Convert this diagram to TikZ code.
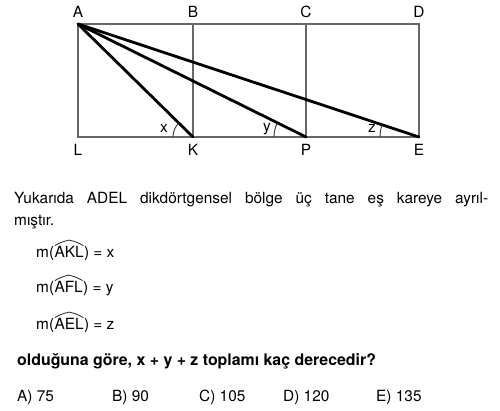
\documentclass[tikz,border=0pt]{standalone}
\usepackage{fontspec}
\setmainfont{TeX Gyre Heros}
\usetikzlibrary{angles}
\newcommand{\fsz}{\fontsize{15.4}{17}\selectfont}
\begin{document}
\begin{tikzpicture}[x=1pt,y=1pt,
  frame/.style={draw=black!60, line width=1.1pt},
  ray/.style={draw=black, line width=2.8pt, line cap=round},
  anglemark/.style={draw=black!80, line width=0.9pt},
  hatarc/.style={draw=black!85, line width=0.8pt},
  ptlabel/.style={anchor=base, inner sep=0pt, font=\fsz},
  txt/.style={anchor=base west, inner sep=0pt, font=\fsz},
  btxt/.style={anchor=base west, inner sep=0pt, font=\fontsize{15.9}{17}\selectfont\bfseries}]
\useasboundingbox (0,0) rectangle (500,411);
% points
\coordinate (A) at (78,387);
\coordinate (B) at (193,387);
\coordinate (C) at (306,387);
\coordinate (D) at (419,387);
\coordinate (L) at (78,274);
\coordinate (K) at (193,274);
\coordinate (P) at (306,274);
\coordinate (E) at (419,274);
% frame
\draw[frame] (A) -- (D) -- (E) -- (L) -- cycle;
\draw[frame] (B) -- (K);
\draw[frame] (C) -- (P);
% rays
\draw[ray] (A) -- (K);
\draw[ray] (A) -- (P);
\draw[ray] (A) -- (E);
% angle marks
\pic[anglemark, angle radius=20pt] {angle = A--K--L};
\pic[anglemark, angle radius=32pt] {angle = A--P--L};
\pic[anglemark, angle radius=39pt] {angle = A--E--L};
% point labels
\node[ptlabel] (lA) at (78,393) {A};
\node[ptlabel] (lB) at (193,393) {B};
\node[ptlabel] (lC) at (306,393) {C};
\node[ptlabel] (lD) at (419,393) {D};
\node[ptlabel] (lL) at (78,255) {L};
\node[ptlabel] (lK) at (193,255) {K};
\node[ptlabel] (lP) at (306,255) {P};
\node[ptlabel] (lE) at (419,255) {E};
\node[ptlabel] (lx) at (164,278) {x};
\node[ptlabel] (ly) at (267,279) {y};
\node[ptlabel] (lz) at (372,278) {z};
% text
\node[txt] (t1) at (14,207) {\makebox[474pt][s]{Yukarıda ADEL dikdörtgensel bölge üç tane eş kareye ayrıl-}};
\node[txt] (t2) at (14,185) {mıştır.};
% m(AKL) = x
\node[txt] (m1a) at (36,153) {m(};
\node[txt] (m1b) at (m1a.base east) {AKL};
\node[txt] (m1c) at (m1b.base east) {) = x};
\draw[hatarc] ([xshift=0.5pt,yshift=1pt]m1b.north west) to[bend left=8] ([yshift=6.5pt]m1b.north) to[bend left=8] ([xshift=-0.5pt,yshift=1pt]m1b.north east);
% m(AFL) = y
\node[txt] (m2a) at (36,118) {m(};
\node[txt] (m2b) at (m2a.base east) {AFL};
\node[txt] (m2c) at (m2b.base east) {) = y};
\draw[hatarc] ([xshift=0.5pt,yshift=1pt]m2b.north west) to[bend left=8] ([yshift=6.5pt]m2b.north) to[bend left=8] ([xshift=-0.5pt,yshift=1pt]m2b.north east);
% m(AEL) = z
\node[txt] (m3a) at (36,81) {m(};
\node[txt] (m3b) at (m3a.base east) {AEL};
\node[txt] (m3c) at (m3b.base east) {) = z};
\draw[hatarc] ([xshift=0.5pt,yshift=1pt]m3b.north west) to[bend left=8] ([yshift=6.5pt]m3b.north) to[bend left=8] ([xshift=-0.5pt,yshift=1pt]m3b.north east);
\node[btxt] (q) at (17,45) {olduğuna göre, x + y + z toplamı kaç derecedir?};
\node[txt] (oa) at (17,9) {A) 75};
\node[txt] (ob) at (112,9) {B) 90};
\node[txt] (oc) at (199,9) {C) 105};
\node[txt] (od) at (283,9) {D) 120};
\node[txt] (oe) at (376,9) {E) 135};
\end{tikzpicture}
\end{document}
